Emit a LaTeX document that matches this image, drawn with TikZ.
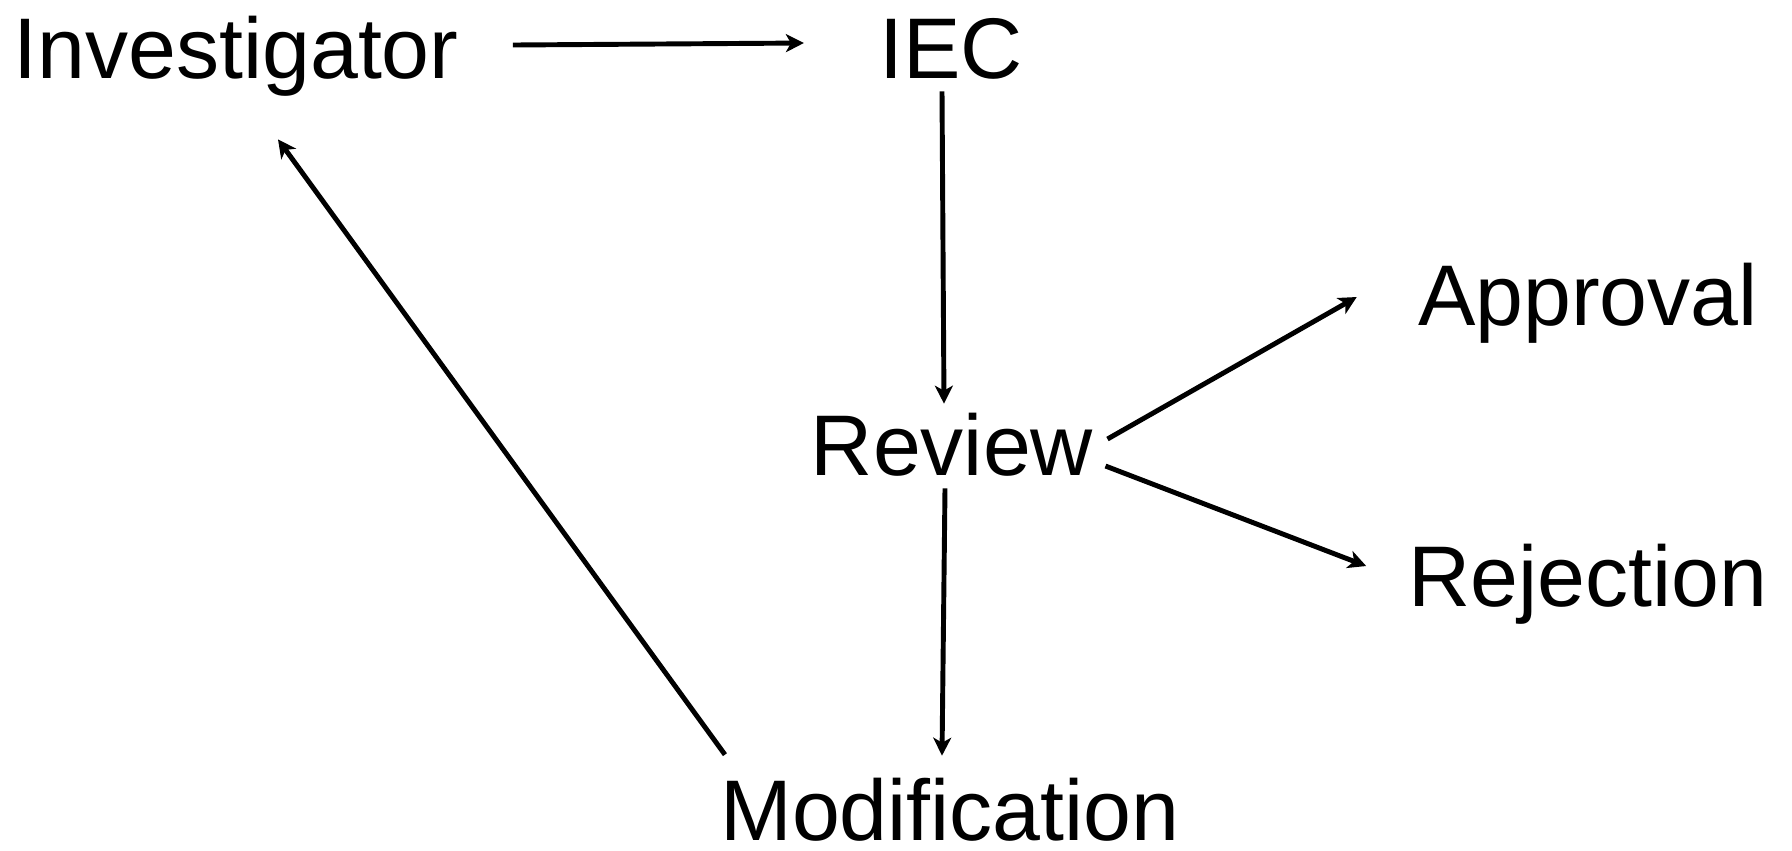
\documentclass[tikz,border=0pt]{standalone}
\usepackage{fontspec}
\setmainfont{Liberation Sans}
\usetikzlibrary{arrows.meta,calc}

\tikzset{
  word/.style={font=\fontsize{49}{59}\selectfont, inner sep=0pt,
    text height=1.24cm, text depth=0pt, anchor=base},
  flow/.style={line width=2.8pt, -{Stealth[length=0.36cm,width=0.36cm,inset=0.1cm]}}
}

\begin{document}
\begin{tikzpicture}[x=0.02cm, y=-0.02cm]
\useasboundingbox (0,0) rectangle (1792,850);

\node[word] (inv) at (236,78) {Investigator};
\node[word] (iec) at (951,78) {IEC};
\node[word] (rev) at (952,475) {Review};
\node[word] (app) at (1588,325) {Approval};
\node[word] (rej) at (1588,606) {Rejection};
\node[word] (mod) at (950,840) {Modification};

\draw[flow] ($(inv.east)+(54,-2)$) -- ($(iec.west)+(-75,-4)$);
\draw[flow] ($(iec.south)+(-9,13)$) -- ($(rev.north)+(-8,-9)$);
\draw[flow] ($(rev.east)+(14,-5)$) -- ($(app.west)+(-61,3)$);
\draw[flow] ($(rev.east)+(12,22)$) -- ($(rej.west)+(-42,-9)$);
\draw[flow] ($(rev.south)+(-7,13)$) -- ($(mod.north)+(-8,-22)$);
% back to the investigator
\draw[flow] ($(mod.north west)+(5,-23)$) -- ($(inv.south)+(42,61)$);
\end{tikzpicture}
\end{document}
